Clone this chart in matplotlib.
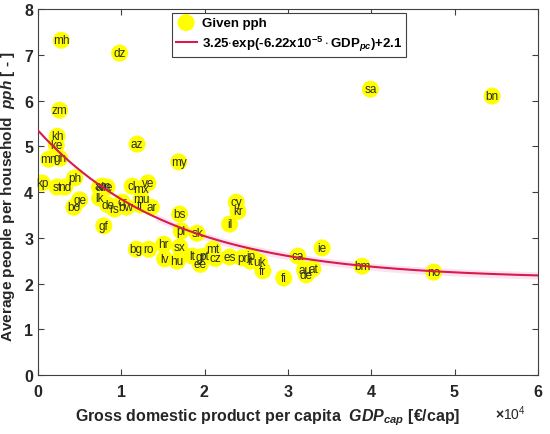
import matplotlib
matplotlib.use('Agg')
import matplotlib.pyplot as plt
from matplotlib.ticker import ScalarFormatter
import numpy as np

plt.rcParams['font.family'] = ['Liberation Sans', 'DejaVu Sans']
plt.rcParams['mathtext.fontset'] = 'custom'
plt.rcParams['mathtext.rm'] = 'Liberation Sans:bold'
plt.rcParams['mathtext.it'] = 'Liberation Sans:bold:italic'
plt.rcParams['mathtext.bf'] = 'Liberation Sans:bold'

# country codes, GDP per capita (EUR) and people per household
codes = ['mh', 'dz', 'zm', 'kh', 'ke', 'mn', 'gh', 'az', 'my', 'ph',
         'kp', 'st', 'nd', 'ge', 'bo', 'al', 'am', 're', 'lk', 'de',
         'rs', 'bw', 'cr', 'cl', 'mx', 've', 'mu', 'tr', 'ar', 'gf',
         'bs', 'pl', 'sk', 'cy', 'kr', 'il', 'hr', 'bg', 'ro', 'sx',
         'mt', 'lv', 'hu', 'lt', 'gr', 'pt', 'ee', 'cz', 'es', 'pr',
         'jp', 'it', 'uk', 'fr', 'fi', 'ca', 'ie', 'au', 'at', 'de',
         'bm', 'no', 'sa', 'bn']
gdp = [2800, 9800, 2600, 2300, 2200, 1300, 2600, 11900, 16900, 4400,
       500, 2300, 3200, 5000, 4300, 7400, 7800, 8300, 7400, 8400,
       9200, 10600, 10100, 11300, 12400, 13200, 12400, 12300, 13600, 7900,
       17000, 17200, 19100, 23800, 24000, 23000, 15100, 11800, 13300, 17000,
       21000, 15200, 16700, 18500, 19500, 20000, 19500, 21300, 23000, 24500,
       25500, 25500, 26600, 27000, 29500, 31200, 34100, 32000, 33000, 32200,
       38900, 47500, 39900, 54500]
pph = [7.32, 7.04, 5.79, 5.22, 5.03, 4.72, 4.74, 5.05, 4.66, 4.31,
       4.20, 4.11, 4.11, 3.83, 3.67, 4.11, 4.13, 4.11, 3.87, 3.72,
       3.63, 3.67, 3.78, 4.13, 4.07, 4.20, 3.85, 3.72, 3.67, 3.26,
       3.52, 3.15, 3.10, 3.78, 3.58, 3.30, 2.86, 2.75, 2.75, 2.80,
       2.75, 2.54, 2.49, 2.60, 2.58, 2.60, 2.42, 2.55, 2.58, 2.56,
       2.60, 2.49, 2.47, 2.28, 2.12, 2.60, 2.78, 2.30, 2.32, 2.19,
       2.38, 2.25, 6.25, 6.10]

# fit parameters from the legend
a, b, c = 3.25, 6.22e-5, 2.1
band = 0.08

fig = plt.figure(figsize=(5.5, 4.35), dpi=100)
ax = fig.add_axes([0.069, 0.1356, 0.909, 0.841])

xf = np.linspace(0, 60000, 400)
yf = a * np.exp(-b * xf) + c
mask = xf > 14000
ax.fill_between(xf[mask], yf[mask] - band, yf[mask] + band, color='#fce3f3', lw=0, zorder=1)

ax.scatter(gdp, pph, s=150, color='#ffff00', edgecolors='none', zorder=2, label='Given pph')
for code, x, y in zip(codes, gdp, pph):
    ax.text(x, y, code, ha='center', va='center', fontsize=8.5, color='#2b2b2b', zorder=3)

ax.plot(xf, yf, color='#d81b4a', lw=1.5, zorder=4,
        label=r'3.25$\cdot$exp(-6.22x10$^{-5}\cdot$GDP$_{pc}$)+2.1')

ax.set_xlim(0, 60000)
ax.set_ylim(0, 8)
ax.set_xticks(np.arange(0, 60001, 10000))
ax.set_yticks(range(0, 9))
fmt = ScalarFormatter(useMathText=True)
fmt.set_powerlimits((4, 4))
ax.xaxis.set_major_formatter(fmt)
ax.xaxis.get_offset_text().set_fontsize(10)
ax.xaxis.get_offset_text().set_x(0.975)

ax.tick_params(direction='in', top=True, right=True, length=4, color='#404040',
               labelsize=11.5, labelcolor='#262626')
ax.tick_params(axis='x', pad=6)
for lab in ax.get_xticklabels() + ax.get_yticklabels():
    lab.set_fontweight('bold')
for sp in ax.spines.values():
    sp.set_color('#404040')

ax.set_xlabel(r'Gross domestic product per capita  $\mathit{GDP}_{\mathit{cap}}$ [€/cap]',
              fontsize=11.5, fontweight='bold', color='#262626')
ax.xaxis.set_label_coords(0.46, -0.085)
ax.set_ylabel(r'Average people per household  $\mathit{pph}$ [ - ]',
              fontsize=11.1, fontweight='bold', color='#262626')
ax.yaxis.set_label_coords(-0.042, 0.49)

leg = ax.legend(loc='upper left', bbox_to_anchor=(0.262, 0.997), fancybox=False,
                edgecolor='#404040', framealpha=1, prop={'weight': 'bold', 'size': 9.5},
                handlelength=1.6, handletextpad=0.4, borderpad=0.3, labelspacing=0.35,
                borderaxespad=0.2)
leg.get_frame().set_linewidth(0.8)

fig.savefig('out.png', dpi=100)
